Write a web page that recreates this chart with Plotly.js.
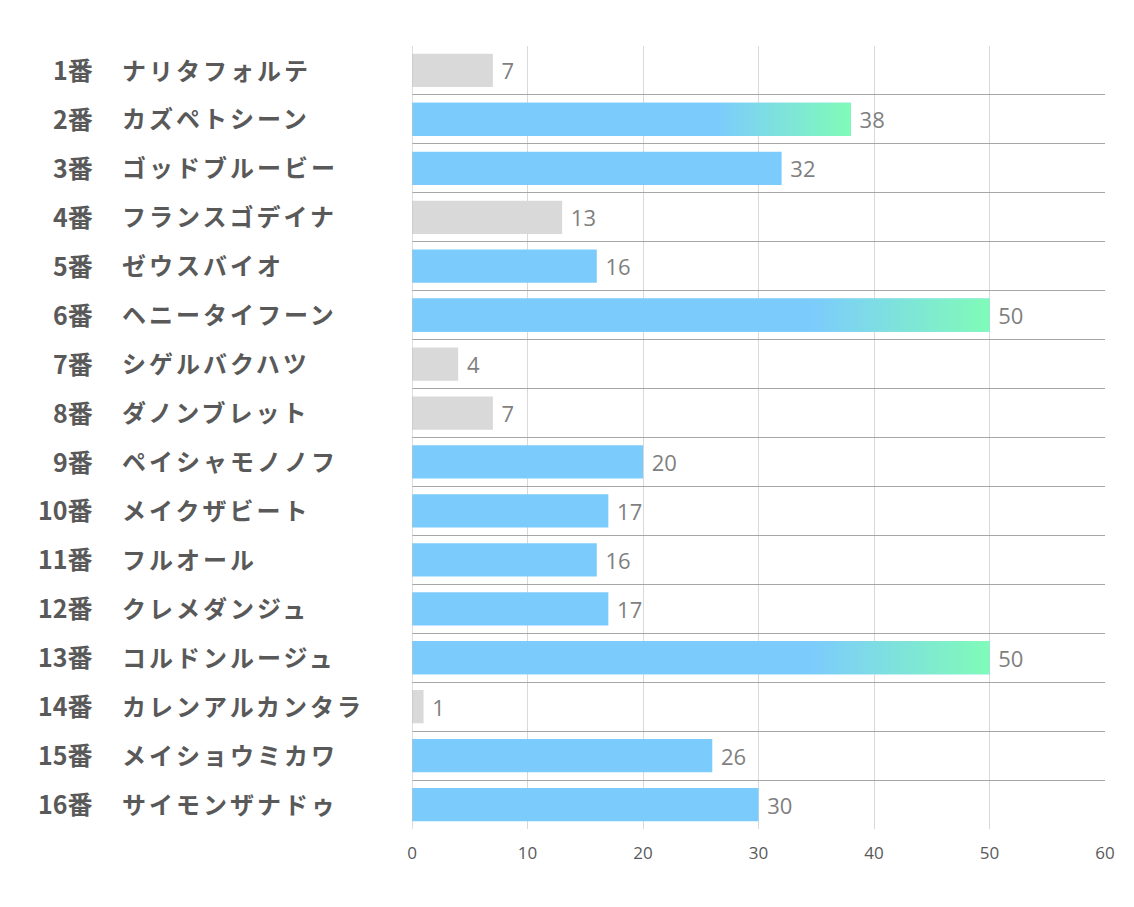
<!DOCTYPE html>
<html><head><meta charset="utf-8">
<script src="https://cdn.plot.ly/plotly-3.0.1.min.js"></script>
<style>body{margin:0;background:#fff}#chart{width:1134px;height:907px}</style>
</head><body><div id="chart"></div>
<script>
const numbers = ['1番','2番','3番','4番','5番','6番','7番','8番','9番','10番','11番','12番','13番','14番','15番','16番'];
const names = ['ナリタフォルテ','カズペトシーン','ゴッドブルービー','フランスゴデイナ','ゼウスバイオ','ヘニータイフーン','シゲルバクハツ','ダノンブレット','ペイシャモノノフ','メイクザビート','フルオール','クレメダンジュ','コルドンルージュ','カレンアルカンタラ','メイショウミカワ','サイモンザナドゥ'];
const values = [7,38,32,13,16,50,4,7,20,17,16,17,50,1,26,30];
const xTicks = [0,10,20,30,40,50,60];

const BLUE = '#7CCBFD', GREEN = '#80FBB8', GRAY = '#D9D9D9';
const BW = 0.68;
const idx = values.map((v,i)=>i);
const colors = values.map(v => v < 15 ? GRAY : BLUE);

const traces = [{
  type:'bar', orientation:'h', x: values, y: idx, width: BW,
  marker:{color: colors, line:{width:0}},
  text: values.map(v=>' '+v), textposition:'outside', cliponaxis:false,
  textfont:{family:'Open Sans, sans-serif', size:22, color:'#7f7f7f'},
  hoverinfo:'none'
}];
values.forEach((v,i)=>{
  if (v >= 35) {
    traces.push({
      type:'scatter', mode:'lines', x:[0,v,v,0,0], y:[i-BW/2,i-BW/2,i+BW/2,i+BW/2,i-BW/2],
      fill:'toself', line:{width:0}, hoverinfo:'skip', showlegend:false,
      fillgradient:{type:'horizontal', colorscale:[[0,BLUE],[0.69,BLUE],[1,GREEN]]}
    });
  }
});

const annotations = [];
idx.forEach(i=>{
  annotations.push({xref:'paper', yref:'y', x:-0.4574, y:i-0.03, text:numbers[i], showarrow:false, xanchor:'right',
    font:{family:'Noto Sans CJK JP, sans-serif', size:25, color:'#595959', weight:'bold'}});
  annotations.push({xref:'paper', yref:'y', x:-0.4214, y:i-0.03,
    text:'<span style="letter-spacing:3px">'+names[i]+'</span>', showarrow:false, xanchor:'left',
    font:{family:'Noto Sans CJK JP, sans-serif', size:24, color:'#595959', weight:'bold'}});
});

const sepVals = [];
for (let k=0;k<=values.length;k++) sepVals.push(k-0.5);

const layout = {
  width:1134, height:907, margin:{l:412, r:29, t:46, b:78},
  paper_bgcolor:'#fff', plot_bgcolor:'#fff', showlegend:false,
  xaxis:{range:[0,60], tickvals:xTicks, ticktext:xTicks.map(String), showgrid:true, gridcolor:'#d9d9d9', gridwidth:1,
    zeroline:false, showline:false, ticks:'', ticklen:0, ticklabelstandoff:12,
    tickfont:{family:'Liberation Sans Narrow, Open Sans, sans-serif', size:17, color:'#595959'}},
  yaxis:{range:[values.length-0.5,-0.5], tickvals:sepVals, showticklabels:false, showgrid:true, gridcolor:'#a6a6a6', gridwidth:1,
    zeroline:false, showline:false, ticks:''},
  annotations: annotations,
  shapes:[{type:'line', xref:'x', yref:'paper', x0:0, x1:0, y0:0, y1:1, line:{color:'#bfbfbf', width:1}}]
};
Plotly.newPlot('chart', traces, layout, {displayModeBar:false, staticPlot:true});
</script></body></html>
